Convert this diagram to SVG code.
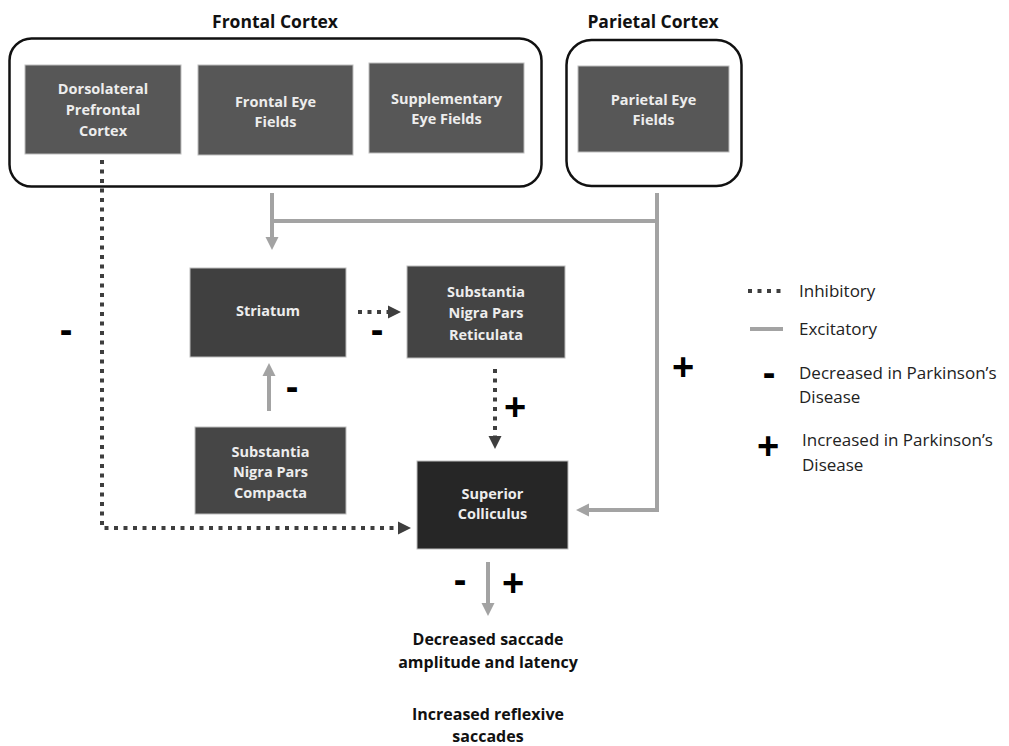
<svg xmlns="http://www.w3.org/2000/svg" width="1009" height="746" viewBox="0 0 1009 746">
<defs>
<style>
.grp{fill:none;stroke:#111;stroke-width:2.5}
.node{stroke:#bdbdbd;stroke-width:1}
.nt{font-family:"Open Sans","Noto Sans",sans-serif;font-weight:bold;font-size:14.5px;fill:#ededed;text-anchor:middle}
.title{font-family:"Open Sans","Noto Sans",sans-serif;font-weight:bold;font-size:17.5px;fill:#111;text-anchor:middle}
.out{font-family:"Open Sans","Noto Sans",sans-serif;font-weight:bold;font-size:16px;fill:#111;text-anchor:middle}
.leg{font-family:"Open Sans","Noto Sans",sans-serif;font-size:17px;fill:#222}
.sign{font-family:"Liberation Sans",Arial,sans-serif;font-weight:bold;font-size:38px;fill:#000;text-anchor:middle}
.exc{fill:none;stroke:#a3a3a3;stroke-width:4}
.inh{fill:none;stroke:#3e3e3e;stroke-width:4;stroke-dasharray:4 5.5}
</style>
<marker id="ga" markerUnits="userSpaceOnUse" markerWidth="14" markerHeight="14" viewBox="0 0 14 14" refX="2" refY="7" orient="auto">
<path d="M0,0.5 L13,7 L0,13.5 z" fill="#a3a3a3"/>
</marker>
<marker id="da" markerUnits="userSpaceOnUse" markerWidth="14" markerHeight="14" viewBox="0 0 14 14" refX="2" refY="7" orient="auto">
<path d="M0,0.5 L13,7 L0,13.5 z" fill="#3e3e3e"/>
</marker>
</defs>
<rect width="1009" height="746" fill="#fff"/>

<g id="frontal-cortex">
<rect class="grp" x="9.5" y="38.5" width="532" height="148" rx="22"/>
<text class="title" x="275" y="28">Frontal Cortex</text>
</g>
<g id="parietal-cortex">
<rect class="grp" x="566.5" y="40" width="175" height="146" rx="25"/>
<text class="title" x="653" y="28">Parietal Cortex</text>
</g>

<g id="dlpfc">
<rect class="node" x="25" y="65" width="156" height="89" fill="#575757"/>
<text class="nt" x="103" y="94">Dorsolateral</text>
<text class="nt" x="103" y="115">Prefrontal</text>
<text class="nt" x="103" y="136">Cortex</text>
</g>
<g id="fef">
<rect class="node" x="198" y="65" width="155" height="90" fill="#575757"/>
<text class="nt" x="275.5" y="107">Frontal Eye</text>
<text class="nt" x="275.5" y="127">Fields</text>
</g>
<g id="sef">
<rect class="node" x="369" y="63" width="155" height="90" fill="#575757"/>
<text class="nt" x="446.5" y="104">Supplementary</text>
<text class="nt" x="446.5" y="124">Eye Fields</text>
</g>
<g id="pef">
<rect class="node" x="578" y="66" width="151" height="86" fill="#575757"/>
<text class="nt" x="653.5" y="105">Parietal Eye</text>
<text class="nt" x="653.5" y="125">Fields</text>
</g>
<g id="striatum">
<rect class="node" x="190" y="268" width="156" height="89" fill="#404040"/>
<text class="nt" x="268" y="316">Striatum</text>
</g>
<g id="snr">
<rect class="node" x="407" y="266" width="158" height="92" fill="#444444"/>
<text class="nt" x="486" y="297">Substantia</text>
<text class="nt" x="486" y="318">Nigra Pars</text>
<text class="nt" x="486" y="340">Reticulata</text>
</g>
<g id="snc">
<rect class="node" x="195" y="427" width="151" height="87" fill="#464646"/>
<text class="nt" x="270.5" y="457">Substantia</text>
<text class="nt" x="270.5" y="477">Nigra Pars</text>
<text class="nt" x="270.5" y="498">Compacta</text>
</g>
<g id="sc">
<rect class="node" x="417" y="461" width="151" height="88" fill="#262626"/>
<text class="nt" x="492.5" y="499">Superior</text>
<text class="nt" x="492.5" y="519">Colliculus</text>
</g>

<g id="connectors">
<line class="exc" x1="272" y1="193" x2="272" y2="239" marker-end="url(#ga)"/>
<line class="exc" x1="270" y1="221" x2="657" y2="221"/>
<polyline class="exc" points="657,193 657,510 587,510" marker-end="url(#ga)"/>
<line class="exc" x1="269" y1="411" x2="269" y2="374" marker-end="url(#ga)"/>
<line class="exc" x1="488" y1="562" x2="488" y2="605" marker-end="url(#ga)"/>
<polyline class="inh" points="102,160 102,528 400,528" marker-end="url(#da)"/>
<line class="inh" x1="358" y1="312" x2="390" y2="312" marker-end="url(#da)"/>
<line class="inh" x1="495" y1="369" x2="495" y2="438" marker-end="url(#da)"/>
</g>

<g id="signs">
<text class="sign" x="66" y="343">-</text>
<text class="sign" x="377" y="343">-</text>
<text class="sign" x="292" y="400">-</text>
<text class="sign" x="460" y="593">-</text>
<text class="sign" x="515" y="420">+</text>
<text class="sign" x="683" y="380">+</text>
<text class="sign" x="513" y="596">+</text>
</g>

<g id="outcome">
<text class="out" x="488" y="645">Decreased saccade</text>
<text class="out" x="488" y="668">amplitude and latency</text>
<text class="out" x="488" y="720">Increased reflexive</text>
<text class="out" x="488" y="742">saccades</text>
</g>

<g id="legend">
<line class="inh" x1="748" y1="291" x2="782" y2="291"/>
<text class="leg" x="799" y="297">Inhibitory</text>
<line class="exc" x1="750" y1="329" x2="783" y2="329"/>
<text class="leg" x="799" y="335">Excitatory</text>
<text class="sign" x="769" y="386">-</text>
<text class="leg" x="799" y="379">Decreased in Parkinson’s</text>
<text class="leg" x="799" y="403">Disease</text>
<text class="sign" x="768" y="459">+</text>
<text class="leg" x="802" y="446">Increased in Parkinson’s</text>
<text class="leg" x="802" y="471">Disease</text>
</g>
</svg>
